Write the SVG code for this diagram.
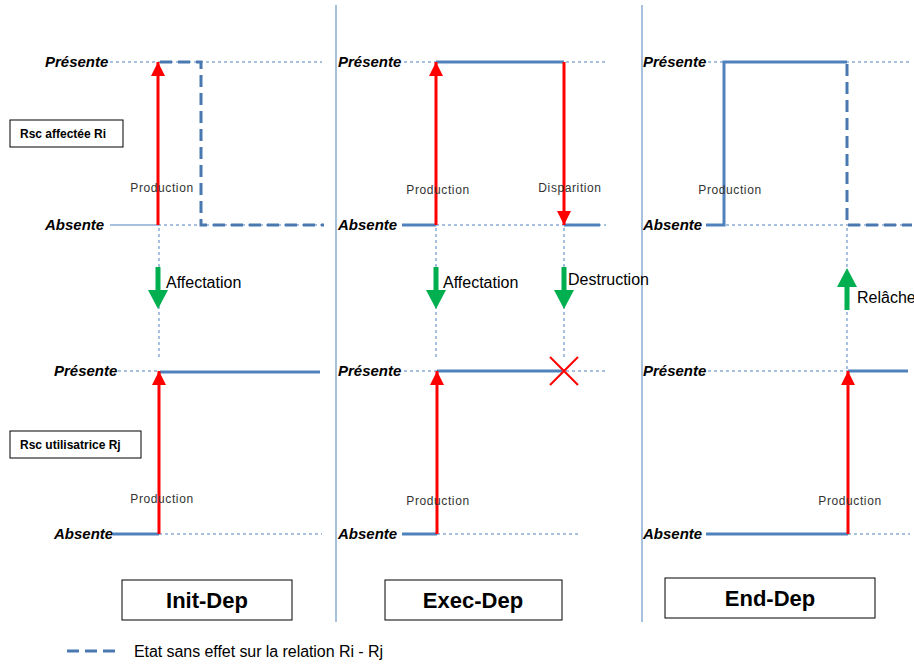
<svg xmlns="http://www.w3.org/2000/svg" width="914" height="664" viewBox="0 0 914 664">
  <style>
    .sep { stroke: #4F81BD; stroke-width: 1; fill: none; }
    .guide { stroke: #4F81BD; stroke-width: 1; stroke-dasharray: 3 3; fill: none; }
    .state { stroke: #4F81BD; stroke-width: 3; fill: none; }
    .noeffect { stroke: #4A78B0; stroke-width: 3; stroke-dasharray: 12 6; fill: none; }
    .red { stroke: #FF0000; stroke-width: 3; fill: none; }
    .green { fill: #00B050; }
    .lvl { font-family: "Liberation Sans", Arial, sans-serif; font-weight: bold; font-style: italic; font-size: 15px; fill: #000; }
    .evt { font-family: "Liberation Sans", Arial, sans-serif; font-size: 12px; fill: #333; letter-spacing: 0.6px; }
    .act { font-family: "Liberation Sans", Arial, sans-serif; font-size: 16px; fill: #000; }
    .tag { font-family: "Liberation Sans", Arial, sans-serif; font-weight: bold; font-size: 12px; fill: #000; }
    .phase { font-family: "Liberation Sans", Arial, sans-serif; font-weight: bold; font-size: 22px; fill: #000; }
    .box { fill: #fff; stroke: #000; stroke-width: 1; }
  </style>
  <defs>
    <marker id="redHead" viewBox="0 0 14 14" refX="14" refY="7" markerWidth="14" markerHeight="14" markerUnits="userSpaceOnUse" orient="auto">
      <path d="M0,0 L14,7 L0,14 Z" fill="#FF0000"/>
    </marker>
    <!-- green block arrow pointing down, tip at origin -->
    <path id="greenDown" d="M-2.5,-42 L2.5,-42 L2.5,-19 L10,-19 L0,0 L-10,-19 L-2.5,-19 Z"/>
  </defs>

  <rect width="914" height="664" fill="#fff"/>

  <!-- column separators -->
  <g id="separators">
    <line class="sep" x1="336" y1="5" x2="336" y2="622"/>
    <line class="sep" x1="642" y1="5" x2="642" y2="622"/>
  </g>

  <!-- row labels -->
  <g id="tag-ri">
    <rect class="box" x="10" y="120" width="113" height="27"/>
    <text class="tag" x="20" y="138">Rsc affectée Ri</text>
  </g>
  <g id="tag-rj">
    <rect class="box" x="10" y="431" width="131" height="27"/>
    <text class="tag" x="20" y="449">Rsc utilisatrice Rj</text>
  </g>

  <!-- level labels -->
  <g id="levels">
    <text class="lvl" x="45" y="67">Présente</text>
    <text class="lvl" x="45" y="230">Absente</text>
    <text class="lvl" x="54" y="376">Présente</text>
    <text class="lvl" x="54" y="539">Absente</text>
    <text class="lvl" x="338" y="67">Présente</text>
    <text class="lvl" x="338" y="230">Absente</text>
    <text class="lvl" x="338" y="376">Présente</text>
    <text class="lvl" x="338" y="539">Absente</text>
    <text class="lvl" x="643" y="67">Présente</text>
    <text class="lvl" x="643" y="230">Absente</text>
    <text class="lvl" x="643" y="376">Présente</text>
    <text class="lvl" x="643" y="539">Absente</text>
  </g>

  <!-- connectors: guides, state lines and transitions -->
  <g id="connectors">
    <!-- Init-Dep -->
    <line class="guide" x1="110" y1="62" x2="322" y2="62"/>
    <line class="guide" x1="158" y1="225" x2="322" y2="225"/>
    <line class="sep" x1="110" y1="225" x2="158" y2="225"/>
    <path class="noeffect" d="M160,62 H201 V225 H324"/>
    <line class="red" x1="158" y1="225" x2="158" y2="62" marker-end="url(#redHead)"/>
    <line class="guide" x1="159" y1="228" x2="159" y2="360"/>
    <line class="guide" x1="118" y1="371" x2="160" y2="371"/>
    <line class="state" x1="160" y1="372" x2="320" y2="372"/>
    <line class="guide" x1="159" y1="534" x2="322" y2="534"/>
    <line class="state" x1="113" y1="534" x2="159" y2="534"/>
    <line class="red" x1="159" y1="534" x2="159" y2="371" marker-end="url(#redHead)"/>

    <!-- Exec-Dep -->
    <line class="guide" x1="404" y1="62" x2="606" y2="62"/>
    <line class="state" x1="436" y1="62" x2="564" y2="62"/>
    <line class="guide" x1="436" y1="225" x2="606" y2="225"/>
    <line class="state" x1="402" y1="225" x2="436" y2="225"/>
    <line class="state" x1="564" y1="225" x2="600" y2="225"/>
    <line class="red" x1="436" y1="225" x2="436" y2="62" marker-end="url(#redHead)"/>
    <line class="red" x1="564" y1="62" x2="564" y2="225" marker-end="url(#redHead)"/>
    <line class="guide" x1="436" y1="228" x2="436" y2="360"/>
    <line class="guide" x1="564" y1="228" x2="564" y2="360"/>
    <line class="guide" x1="404" y1="371" x2="606" y2="371"/>
    <line class="state" x1="437" y1="371" x2="562" y2="371"/>
    <line class="guide" x1="437" y1="534" x2="578" y2="534"/>
    <line class="state" x1="402" y1="534" x2="437" y2="534"/>
    <line class="red" x1="437" y1="534" x2="437" y2="371" marker-end="url(#redHead)"/>
    <path d="M550,357 L578,385 M578,357 L550,385" stroke="#FF0000" stroke-width="2" fill="none"/>

    <!-- End-Dep -->
    <line class="guide" x1="708" y1="62" x2="910" y2="62"/>
    <line class="guide" x1="708" y1="225" x2="910" y2="225"/>
    <path class="state" d="M706,225 H724 V62 H847"/>
    <path class="noeffect" d="M847,64 V225 H912"/>
    <line class="guide" x1="847" y1="228" x2="847" y2="370"/>
    <line class="guide" x1="708" y1="371" x2="848" y2="371"/>
    <line class="state" x1="848" y1="371" x2="908" y2="371"/>
    <line class="guide" x1="848" y1="534" x2="910" y2="534"/>
    <line class="state" x1="706" y1="534" x2="848" y2="534"/>
    <line class="red" x1="848" y1="534" x2="848" y2="371" marker-end="url(#redHead)"/>

    <!-- green relation arrows -->
    <use href="#greenDown" class="green" x="158" y="309"/>
    <use href="#greenDown" class="green" x="436" y="309"/>
    <use href="#greenDown" class="green" x="564" y="309"/>
    <use href="#greenDown" class="green" transform="translate(847,268) rotate(180)"/>
  </g>

  <!-- event and action labels -->
  <g id="labels">
    <text class="evt" x="162" y="192" text-anchor="middle">Production</text>
    <text class="evt" x="162" y="503" text-anchor="middle">Production</text>
    <text class="evt" x="438" y="194" text-anchor="middle">Production</text>
    <text class="evt" x="570" y="192" text-anchor="middle">Disparition</text>
    <text class="evt" x="438" y="505" text-anchor="middle">Production</text>
    <text class="evt" x="730" y="194" text-anchor="middle">Production</text>
    <text class="evt" x="850" y="505" text-anchor="middle">Production</text>
    <text class="act" x="166" y="288">Affectation</text>
    <text class="act" x="443" y="288">Affectation</text>
    <text class="act" x="568" y="285">Destruction</text>
    <text class="act" x="857" y="303">Relâche</text>
  </g>

  <!-- phase boxes -->
  <g id="phase-init">
    <rect class="box" x="122" y="580" width="170" height="40"/>
    <text class="phase" x="207" y="608" text-anchor="middle">Init-Dep</text>
  </g>
  <g id="phase-exec">
    <rect class="box" x="385" y="580" width="177" height="40"/>
    <text class="phase" x="473" y="608" text-anchor="middle">Exec-Dep</text>
  </g>
  <g id="phase-end">
    <rect class="box" x="665" y="578" width="210" height="40"/>
    <text class="phase" x="770" y="606" text-anchor="middle">End-Dep</text>
  </g>

  <!-- legend -->
  <g id="legend">
    <line class="noeffect" x1="67" y1="651" x2="119" y2="651"/>
    <text class="act" x="134" y="657" font-size="15" textLength="249">Etat sans effet sur la relation Ri - Rj</text>
  </g>
</svg>
